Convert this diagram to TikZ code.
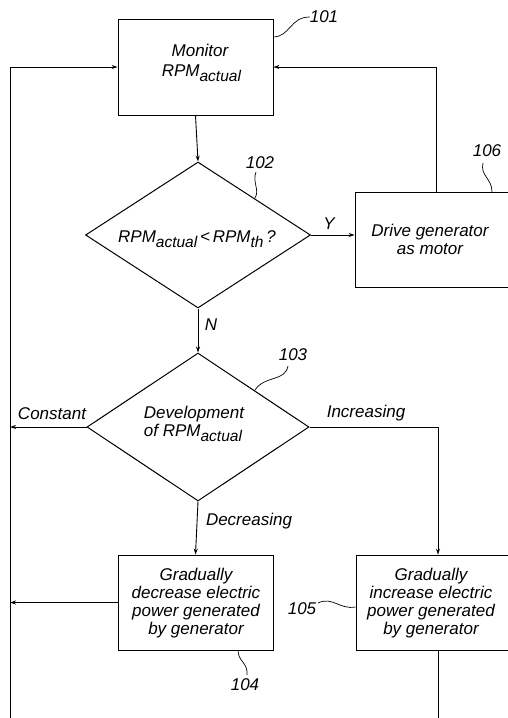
\documentclass[tikz,border=0pt]{standalone}
\usepackage{fontspec}
\setmainfont{Liberation Sans}
\usetikzlibrary{shapes.geometric,arrows.meta}
\newcommand\sbs[1]{\raisebox{-5pt}{\fontsize{15.5}{15.5}\selectfont #1}}
\begin{document}
\begin{tikzpicture}[x=1pt,y=-1pt,
  every node/.style={font=\fontsize{17}{18}\selectfont\itshape},
  stepbox/.style={draw,line width=0.9pt,inner sep=0pt,align=center},
  decision/.style={draw,diamond,line width=1pt,inner sep=0pt,align=center},
  conn/.style={line width=0.9pt},
  arr/.style={conn,-{Stealth[length=6pt,width=4pt]}},
  ref/.style={line width=0.7pt},
  lbl/.style={inner sep=0pt}]
\useasboundingbox (0,0) rectangle (507,718);
% boxes
\node[stepbox,minimum width=155pt,minimum height=96pt] (b101) at (195.5,67) {};
\node[lbl,align=center] (t101) at (200,63) {Monitor\\[2pt]\,RPM\sbs{actual}};
\node[stepbox,minimum width=170pt,minimum height=95pt] (b106) at (440,239.5) {};
\node[lbl,align=center] (t106) at (430,239) {Drive generator\\as motor};
\node[stepbox,minimum width=155pt,minimum height=95pt] (b104) at (195.5,602.5) {};
\node[lbl,align=center] (t104) at (196,603) {Gradually\\decrease electric\\power generated\\by generator};
\node[stepbox,minimum width=170pt,minimum height=95pt] (b105) at (441,602.5) {};
\node[lbl,align=center] (t105) at (431,603) {Gradually\\increase electric\\power generated\\by generator};
% diamonds
\node[decision,minimum width=225pt,minimum height=146pt] (d102) at (198,235) {};
\node[lbl] (t102) at (197,239) {RPM\sbs{actual}\,<\,RPM\sbs{th}\,?};
\node[decision,minimum width=222pt,minimum height=148pt] (d103) at (198,427) {};
\node[lbl,align=left] (t103) at (194,424) {Development\\of RPM\sbs{actual}};
% coordinates
\coordinate (lt) at (10,67);
\coordinate (lb) at (10,718);
\coordinate (lc) at (10,427);
\coordinate (lm) at (10,602.5);
\coordinate (rtop) at (436,67);
\coordinate (ri) at (438,427);
\coordinate (rb) at (438,718);
% connectors
\draw[arr] (b101.south) -- (d102.north);
\draw[arr] (d102.east) -- (d102.east -| b106.west);
\node[lbl] (ly) at (329,224) {Y};
\draw[arr] (d102.south) -- (d103.north);
\node[lbl] (ln) at (211,325) {N};
\draw[arr] (d103.east) -- (ri) -- (ri |- b105.north);
\node[lbl] (linc) at (366,413) {Increasing};
\draw[arr] (d103.west) -- (lc);
\node[lbl] (lconst) at (52,414) {Constant};
\draw[arr] (d103.south) -- (b104.north);
\node[lbl] (ldec) at (249,521) {Decreasing};
\draw[arr] (b104.west) -- (lm);
\draw[arr] (b106.north -| rtop) -- (rtop) -- (b101.east |- rtop);
\draw[arr] (lb) -- (lt) -- (b101.west |- lt);
\draw[conn] (b105.south -| rb) -- (rb);
% reference numerals
\node[lbl] (n101) at (324,17) {101};
\draw[ref] (273,37) .. controls (290,37) and (290,17) .. (n101.west);
\node[lbl] (n102) at (260,163) {102};
\draw[ref] (255,198) .. controls (260,190) and (252,182) .. (256,172);
\node[lbl] (n106) at (487,151) {106};
\draw[ref] (492,192) .. controls (492,178) and (480,176) .. (483,163);
\node[lbl] (n103) at (293,355) {103};
\draw[ref] (255,390) .. controls (265,375) and (285,382) .. (288,366);
\node[lbl] (n105) at (302,609) {105};
\draw[ref] (318,603) .. controls (332,596) and (340,610) .. (b105.west |- 0,607);
\node[lbl] (n104) at (245,685) {104};
\draw[ref] (238,650) .. controls (238,662) and (248,662) .. (247,675);
\end{tikzpicture}
\end{document}
